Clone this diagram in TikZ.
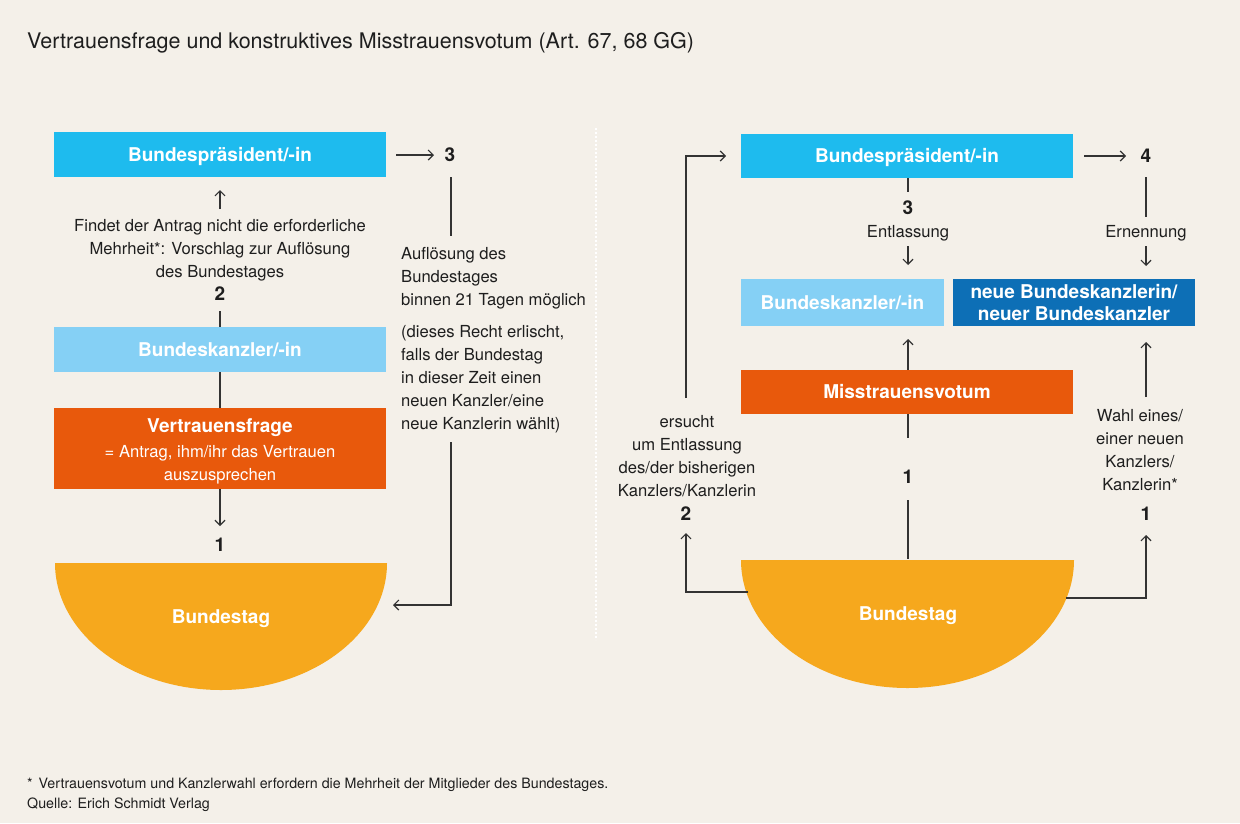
\documentclass[tikz,border=0pt]{standalone}
\usepackage{fontspec}
\setmainfont{TeX Gyre Heros}
\usetikzlibrary{arrows.meta}
\definecolor{bg}{HTML}{F4F0E9}
\definecolor{cyanbox}{HTML}{1EBBEE}
\definecolor{lightbox}{HTML}{85D0F5}
\definecolor{orangebox}{HTML}{E8590C}
\definecolor{tagbox}{HTML}{F6A81D}
\definecolor{darkbox}{HTML}{0D6FB6}
\definecolor{ink}{HTML}{1E1E1E}
\definecolor{linecol}{HTML}{333333}
\tikzset{
  box/.style={rectangle, inner sep=0pt, text=white, align=center, font=\fontsize{19}{22}\selectfont\bfseries},
  onebox/.style={box, text height=13.6pt, text depth=0pt},
  boxtxt/.style={inner sep=0pt, text=white, align=center, yshift=-2pt, font=\fontsize{16.6}{23}\selectfont},
  txt/.style={inner sep=0pt, text=ink, align=center, yshift=-2pt, font=\fontsize{16.6}{23}\selectfont},
  ltxt/.style={inner sep=0pt, text=ink, align=left, anchor=west, yshift=-2pt, font=\fontsize{16.6}{23}\selectfont},
  num/.style={inner sep=0pt, text=ink, font=\fontsize{19}{22}\selectfont\bfseries},
  conn/.style={draw=linecol, line width=1.2pt},
  arr/.style={conn, -{Straight Barb[length=5pt,width=10pt]}},
  note/.style={inner sep=0pt, text=ink, anchor=west, font=\fontsize{14.25}{20}\selectfont}
}
\begin{document}
\begin{tikzpicture}[x=1pt,y=1pt]
\fill[bg] (0,0) rectangle (1240,-823);
\useasboundingbox (0,0) rectangle (1240,-823);

% title
\node[inner sep=0pt, anchor=west, text=ink, font=\fontsize{21.5}{24}\selectfont] (title) at (27,-43) {Vertrauensfrage und konstruktives Misstrauensvotum (Art. 67, 68 GG)};

% divider
\coordinate (d1) at (596,-128);
\coordinate (d2) at (596,-640);
\draw[white, line width=2pt, dash pattern=on 2pt off 2pt] (d1) -- (d2);

% ---------------- left ----------------
\node[onebox, fill=cyanbox, minimum width=332pt, minimum height=45pt] (lbp) at (220,-154.5) {Bundespräsident/-in};
\node[onebox, fill=lightbox, minimum width=332pt, minimum height=45pt] (lbk) at (220,-349.5) {Bundeskanzler/-in};
\node[box, fill=orangebox, minimum width=332pt, minimum height=81pt] (lvf) at (220,-448.5) {};
\node[onebox] (lvft) at (220,-426) {Vertrauensfrage};
\node[boxtxt] (lvfs) at (220,-462.5) {= Antrag, ihm/ihr das Vertrauen\\auszusprechen};

\fill[tagbox] (55,-563) arc[start angle=180, end angle=360, x radius=166, y radius=127] -- cycle;
\node[onebox] (lbt) at (221,-617) {Bundestag};

\node[txt] (lfind) at (220,-248.5) {Findet der Antrag nicht die erforderliche\\Mehrheit*: Vorschlag zur Auflösung\\des Bundestages};
\node[num] (l2) at (220,-294) {2};
\node[num] (l1) at (220,-545) {1};
\node[num] (l3) at (450,-155) {3};
\node[ltxt] (lauf) at (401,-276) {Auflösung des\\Bundestages\\binnen 21 Tagen möglich};
\node[ltxt] (lrecht) at (401,-377) {(dieses Recht erlischt,\\falls der Bundestag\\in dieser Zeit einen\\neuen Kanzler/eine\\neue Kanzlerin wählt)};

\coordinate (la1) at (220,-209);
\coordinate (la2) at (220,-190);
\draw[arr] (la1) -- (la2);
\coordinate (la3) at (220,-311);
\draw[conn] (lbk.north) -- (la3);
\draw[conn] (lbk.south) -- (lvf.north);
\coordinate (la4) at (220,-526);
\draw[arr] (lvf.south) -- (la4);
\coordinate (la5) at (396,-155);
\coordinate (la6) at (434,-155);
\draw[arr] (la5) -- (la6);
\coordinate (la7) at (451,-177);
\coordinate (la8) at (451,-236);
\draw[conn] (la7) -- (la8);
\coordinate (la9) at (451,-442);
\coordinate (la10) at (451,-605);
\coordinate (la11) at (393,-605);
\draw[arr] (la9) -- (la10) -- (la11);

% ---------------- right ----------------
\node[onebox, fill=cyanbox, minimum width=332pt, minimum height=44pt] (rbp) at (907,-156) {Bundespräsident/-in};
\node[onebox, fill=lightbox, minimum width=203pt, minimum height=47pt] (rbk) at (842.5,-302.5) {Bundeskanzler/-in};
\node[box, fill=darkbox, minimum width=242pt, minimum height=47pt] (rnb) at (1074,-302.5) {neue Bundeskanzlerin/\\neuer Bundeskanzler};
\node[onebox, fill=orangebox, minimum width=332pt, minimum height=44pt] (rmv) at (907,-392) {Misstrauensvotum};

\fill[tagbox] (741,-560) arc[start angle=180, end angle=360, x radius=166.5, y radius=128] -- cycle;
\node[onebox] (rbt) at (908,-614) {Bundestag};

\node[num] (r3) at (908,-208) {3};
\node[txt] (rent) at (908,-231) {Entlassung};
\node[num] (r4) at (1146,-156) {4};
\node[txt] (rern) at (1146,-231) {Ernennung};
\node[num] (r1m) at (908,-477) {1};
\node[txt] (rers) at (687,-454.5) {ersucht\\um Entlassung\\des/der bisherigen\\Kanzlers/Kanzlerin};
\node[num] (r2) at (686,-514) {2};
\node[txt] (rwahl) at (1140,-448.5) {Wahl eines/\\einer neuen\\Kanzlers/\\Kanzlerin*};
\node[num] (r1r) at (1146,-514) {1};

\coordinate (ra1) at (908,-192);
\draw[conn] (rbp.south -| ra1) -- (ra1);
\coordinate (ra2) at (908,-246);
\coordinate (ra3) at (908,-265);
\draw[arr] (ra2) -- (ra3);
\coordinate (ra4) at (908,-339);
\draw[arr] (rmv.north -| ra4) -- (ra4);
\coordinate (ra5) at (908,-438);
\draw[conn] (rmv.south -| ra5) -- (ra5);
\coordinate (ra6) at (908,-500);
\coordinate (ra7) at (908,-559);
\draw[conn] (ra6) -- (ra7);
\coordinate (ra8) at (1084,-156);
\coordinate (ra9) at (1126,-156);
\draw[arr] (ra8) -- (ra9);
\coordinate (ra10) at (1146,-177);
\coordinate (ra11) at (1146,-217);
\draw[conn] (ra10) -- (ra11);
\coordinate (ra12) at (1146,-246);
\coordinate (ra13) at (1146,-266);
\draw[arr] (ra12) -- (ra13);
% left loop
\coordinate (rb1) at (748,-592);
\coordinate (rb2) at (686,-592);
\coordinate (rb3) at (686,-533);
\draw[arr] (rb1) -- (rb2) -- (rb3);
\coordinate (rb4) at (686,-398);
\coordinate (rb5) at (686,-156);
\coordinate (rb6) at (726,-156);
\draw[arr] (rb4) -- (rb5) -- (rb6);
% right loop
\coordinate (rc1) at (1066,-598);
\coordinate (rc2) at (1146,-598);
\coordinate (rc3) at (1146,-535);
\draw[arr] (rc1) -- (rc2) -- (rc3);
\coordinate (rc4) at (1146,-397);
\coordinate (rc5) at (1146,-342);
\draw[arr] (rc4) -- (rc5);

% footnote
\node[note] (fn) at (27,-785) {*\hspace{6pt}Vertrauensvotum und Kanzlerwahl erfordern die Mehrheit der Mitglieder des Bundestages.};
\node[note] (src) at (27,-805) {Quelle: Erich Schmidt Verlag};
\end{tikzpicture}
\end{document}
